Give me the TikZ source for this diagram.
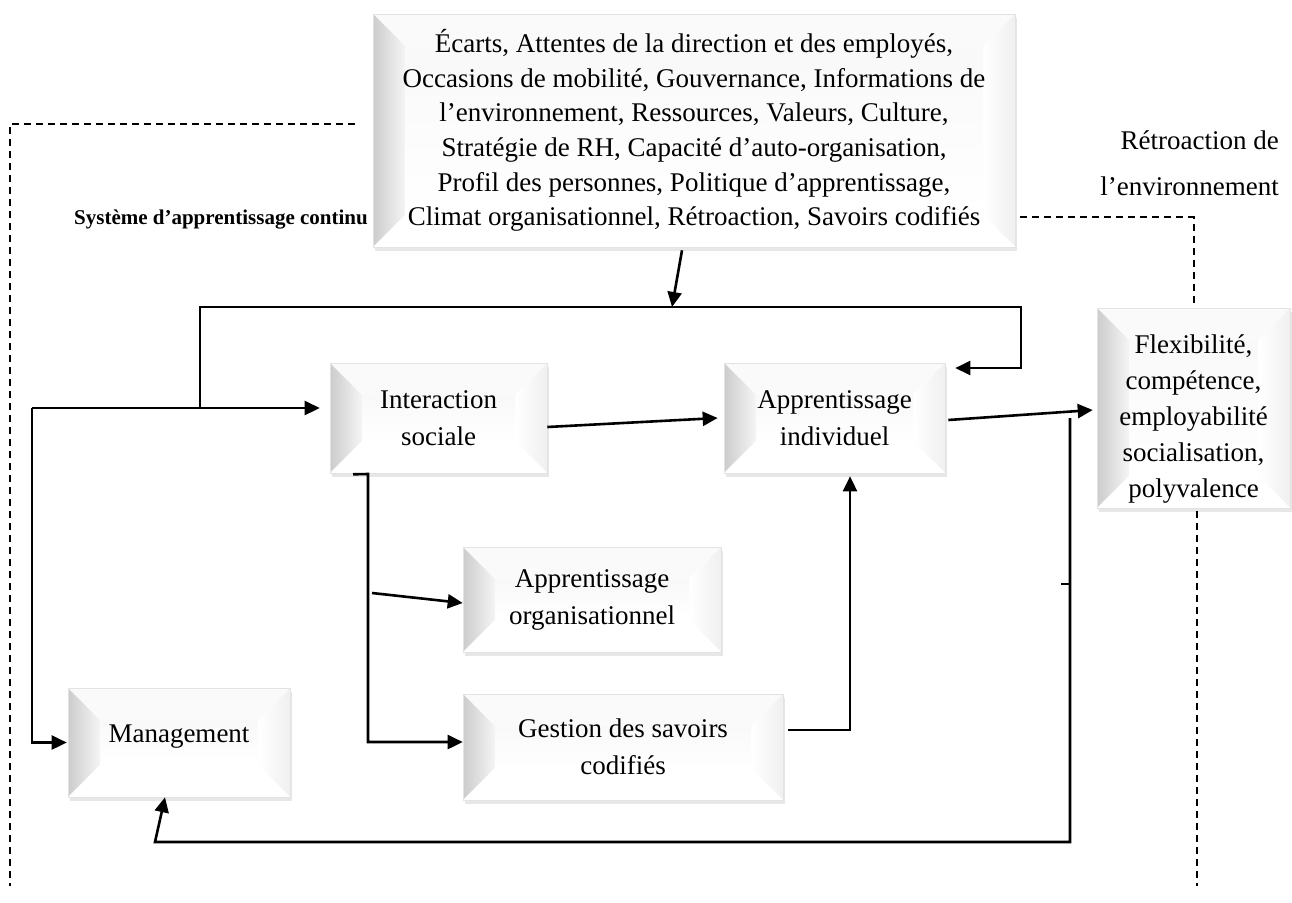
\documentclass[tikz,border=0pt]{standalone}
\usepackage{fontspec}
\setmainfont{Liberation Serif}
\usetikzlibrary{arrows.meta,shadows,calc}
\newlength\bevd
\setlength\bevd{32pt}
\tikzset{
  bev/.style={draw=gray!22, line width=0.6pt, fill=white, inner sep=0pt, align=center,
    font=\fontsize{27}{37}\selectfont,
    drop shadow={shadow xshift=1.5pt, shadow yshift=-4pt, fill=gray!55, opacity=0.35},
    path picture={
      \path (path picture bounding box.north west) coordinate (@nw)
            (path picture bounding box.north east) coordinate (@ne)
            (path picture bounding box.south west) coordinate (@sw)
            (path picture bounding box.south east) coordinate (@se);
      \fill[gray!4] (@nw) -- (@ne) -- ([xshift=-\bevd,yshift=-\bevd]@ne) -- ([xshift=\bevd,yshift=-\bevd]@nw) -- cycle;
      \fill[left color=gray!40, right color=gray!8] (@nw) -- ([xshift=\bevd,yshift=-\bevd]@nw) -- ([xshift=\bevd,yshift=\bevd]@sw) -- (@sw) -- cycle;
      \fill[left color=white, right color=gray!12] (@ne) -- ([xshift=-\bevd,yshift=-\bevd]@ne) -- ([xshift=-\bevd,yshift=\bevd]@se) -- (@se) -- cycle;
      \fill[white] (@sw) -- (@se) -- ([xshift=-\bevd,yshift=\bevd]@se) -- ([xshift=\bevd,yshift=\bevd]@sw) -- cycle;
      \fill[top color=gray!5, bottom color=white] ([xshift=\bevd,yshift=-\bevd]@nw) rectangle ([xshift=-\bevd,yshift=\bevd]@se);
    }},
  conn/.style={line width=2.6pt},
  arr/.style={line width=2.6pt, -{Triangle[length=15pt,width=14pt]}},
  dsh/.style={line width=2pt, dash pattern=on 7pt off 5pt},
}
\begin{document}
\begin{tikzpicture}[x=1pt,y=-1pt]
\useasboundingbox (0,0) rectangle (1292,902);

% boxes
\node[bev, font=\fontsize{27}{34.6}\selectfont, minimum width=642pt, minimum height=233pt] (top) at (694,130.5)
  {Écarts, Attentes de la direction et des employés,\\Occasions de mobilité, Gouvernance, Informations de\\l’environnement, Ressources, Valeurs, Culture,\\Stratégie de RH, Capacité d’auto-organisation,\\Profil des personnes, Politique d’apprentissage,\\Climat organisationnel, Rétroaction, Savoirs codifiés};
\node[bev, minimum width=217pt, minimum height=110pt] (inter) at (438.5,418) {Interaction\\sociale};
\node[bev, minimum width=221pt, minimum height=110pt] (appind) at (834.5,418) {Apprentissage\\individuel};
\node[bev, minimum width=258pt, minimum height=105pt] (apporg) at (592,599.5) {Apprentissage\\organisationnel};
\node[bev, minimum width=320pt, minimum height=106pt] (gest) at (623,747) {Gestion des savoirs\\codifiés};
\node[bev, minimum width=222pt, minimum height=109pt] (mgmt) at (179,742.5) {Management\\[-19pt]};
\node[bev, font=\fontsize{27}{36}\selectfont, minimum width=193pt, minimum height=200pt] (flex) at (1193.5,408)
  {\rule{0pt}{40pt}Flexibilité,\\compétence,\\employabilité\\socialisation,\\polyvalence};

% labels
\node[anchor=east, inner sep=0pt, font=\bfseries\fontsize{21}{25}\selectfont] (sys) at (368,220) {Système d’apprentissage continu};
\node[anchor=east, align=right, inner sep=0pt, font=\fontsize{27}{46}\selectfont] (retro) at (1279,163) {Rétroaction de\\l’environnement};

% junction coordinates
\coordinate (jL) at (32,408);
\coordinate (jM) at (200,408);
\coordinate (jA) at (200,307);
\coordinate (jB) at (1021,307);
\coordinate (jT) at (672,307);
\coordinate (jS) at (368,474);
\coordinate (jO) at (372,593);
\coordinate (fb1) at (1070,418);
\coordinate (fb2) at (1070,842);
\coordinate (fb3) at (155,842);
\coordinate (tk) at (1061,584);
\coordinate (tk2) at (1070,584);
\coordinate (dl1) at (355,124);
\coordinate (dl2) at (10,886);
\coordinate (dr2) at (1197,886);

% solid connectors
\draw[arr] ([xshift=-12pt,yshift=-3pt]top.south) -- (jT);
\draw[arr] (jM) -- (jA) -- (jB) |- ([xshift=10pt,yshift=50pt]appind.east);
\draw[arr] (jL) -- ([xshift=-10pt,yshift=10pt]inter.west);
\draw[arr] (jL) |- ([xshift=-1pt]mgmt.west);
\draw[arr] ([yshift=-9pt]inter.east) -- ([xshift=-6pt]appind.west);
\draw[arr] ([xshift=3pt,yshift=-2pt]appind.east) -- ([xshift=-4pt,yshift=-2pt]flex.west);
\draw[arr] ([xshift=-85.5pt,yshift=-1pt]inter.south) -- (jS) |- ([yshift=5pt]gest.west);
\draw[arr] (jO) -- ([yshift=-3.5pt]apporg.west);
\draw[arr] ([xshift=5pt,yshift=17pt]gest.east) -| ([xshift=15.5pt,yshift=-3pt]appind.south);
\draw[arr] (fb1) -- (fb2) -- (fb3) -- ([xshift=-14pt]mgmt.south);
\draw[conn] (tk) -- (tk2);

% dashed frame
\draw[dsh] (dl1) -| (dl2);
\draw[dsh] ([xshift=5pt,yshift=-86.5pt]top.east) -| ([yshift=3pt]flex.north);
\draw[dsh] ([xshift=3.5pt,yshift=-3pt]flex.south) -- (dr2);
\end{tikzpicture}
\end{document}
